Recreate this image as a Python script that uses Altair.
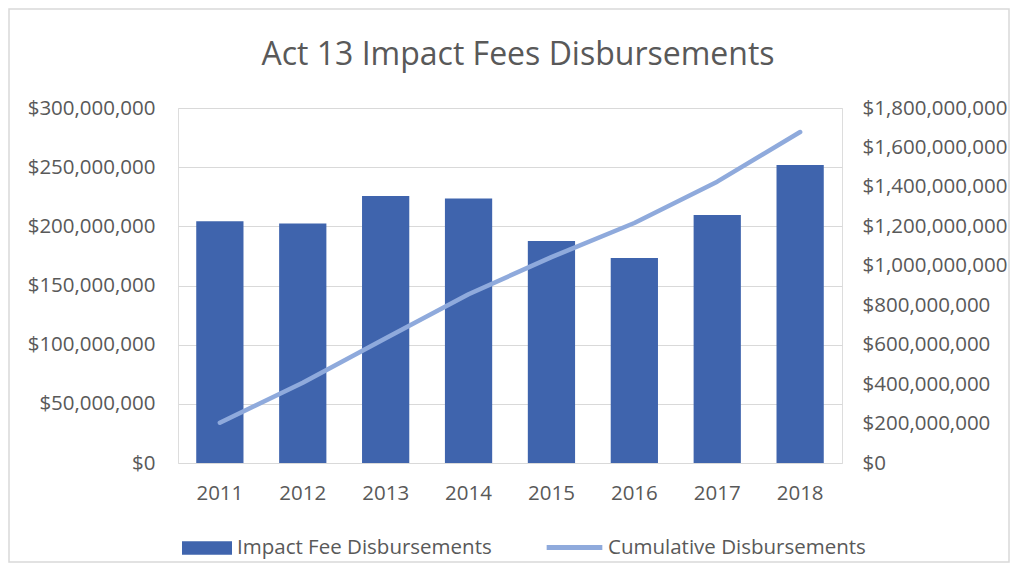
import altair as alt
import pandas as pd

years = ["2011", "2012", "2013", "2014", "2015", "2016", "2017", "2018"]
annual = [204.2e6, 202.5e6, 225.7e6, 223.5e6, 187.7e6, 173.3e6, 209.6e6, 251.8e6]
cumulative = [204.2e6, 406.7e6, 632.4e6, 855.9e6, 1043.6e6, 1216.9e6, 1426.5e6, 1678.3e6]
left_ticks = [0, 50e6, 100e6, 150e6, 200e6, 250e6, 300e6]
right_ticks = [0, 200e6, 400e6, 600e6, 800e6, 1000e6, 1200e6, 1400e6, 1600e6, 1800e6]
bar_name = "Impact Fee Disbursements"
line_name = "Cumulative Disbursements"

df = pd.DataFrame({
    "year": years,
    "annual": annual,
    "cumulative": cumulative,
    "bar_series": [bar_name] * len(years),
    "line_series": [line_name] * len(years),
})

FONT = "Open Sans"
GREY = "#595959"
W, H = 664, 355
LFS = 20.5

x_enc = alt.X("year:N", sort=years,
              scale=alt.Scale(paddingInner=0.43, paddingOuter=0.22),
              axis=alt.Axis(title=None, labelAngle=0, ticks=False, domain=False,
                            labelFontSize=LFS, labelColor=GREY, labelFont=FONT,
                            labelPadding=20))

bars = alt.Chart(df).mark_bar(color="#3f64ad").encode(
    x=x_enc,
    y=alt.Y("annual:Q", scale=alt.Scale(domain=[0, 300e6], nice=False),
            axis=alt.Axis(title=None, values=left_ticks, format="$,.0f",
                          orient="left", ticks=False, domain=False,
                          gridColor="#d9d9d9", gridWidth=1.2,
                          labelFontSize=LFS, labelColor=GREY, labelFont=FONT,
                          labelPadding=23, labelLimit=300)),
    fill=alt.Fill("bar_series:N",
                  scale=alt.Scale(domain=[bar_name], range=["#3f64ad"]),
                  legend=alt.Legend(title=None, orient="none", legendX=3, legendY=414,
                                    padding=0,
                                    symbolType="M-1,-0.27H1V0.27H-1Z", symbolSize=2500,
                                    labelFontSize=LFS, labelColor=GREY, labelFont=FONT,
                                    labelOffset=4, labelLimit=400)),
)

line = alt.Chart(df).mark_line(strokeWidth=4.5, strokeCap="round", strokeJoin="round").encode(
    x=x_enc,
    y=alt.Y("cumulative:Q", scale=alt.Scale(domain=[0, 1800e6], nice=False),
            axis=alt.Axis(title=None, values=right_ticks, format="$,.0f",
                          orient="right", ticks=False, domain=False, grid=False,
                          labelFontSize=LFS, labelColor=GREY, labelFont=FONT,
                          labelPadding=20, labelLimit=300)),
    stroke=alt.Stroke("line_series:N",
                      scale=alt.Scale(domain=[line_name], range=["#8faadc"]),
                      legend=alt.Legend(title=None, orient="none", legendX=366, legendY=409,
                                        padding=0,
                                        symbolType="stroke", symbolSize=3100,
                                        symbolStrokeWidth=5,
                                        labelFontSize=LFS, labelColor=GREY, labelFont=FONT,
                                        labelOffset=3, labelLimit=400)),
)

frame = alt.Chart(alt.Data(values=[{}])).mark_rect(
    fill=None, stroke="#d9d9d9", strokeWidth=1.5, clip=False
).encode(x=alt.value(-169), x2=alt.value(W + 167), y=alt.value(-99), y2=alt.value(H + 99))

chart = alt.layer(frame, bars, line).resolve_scale(
    y="independent", fill="independent", stroke="independent"
).properties(
    width=W, height=H,
    title=alt.TitleParams("Act 13 Impact Fees Disbursements", fontSize=32, color=GREY,
                          font=FONT, fontWeight="normal", anchor="middle",
                          frame="group", offset=-64, dx=8),
    autosize=alt.AutoSizeParams(type="none"),
    padding={"left": 170, "top": 100, "right": 168, "bottom": 100},
).configure_view(strokeWidth=0).configure(background="white")

chart.save("out.html", embed_options={"renderer": "svg", "actions": False})
